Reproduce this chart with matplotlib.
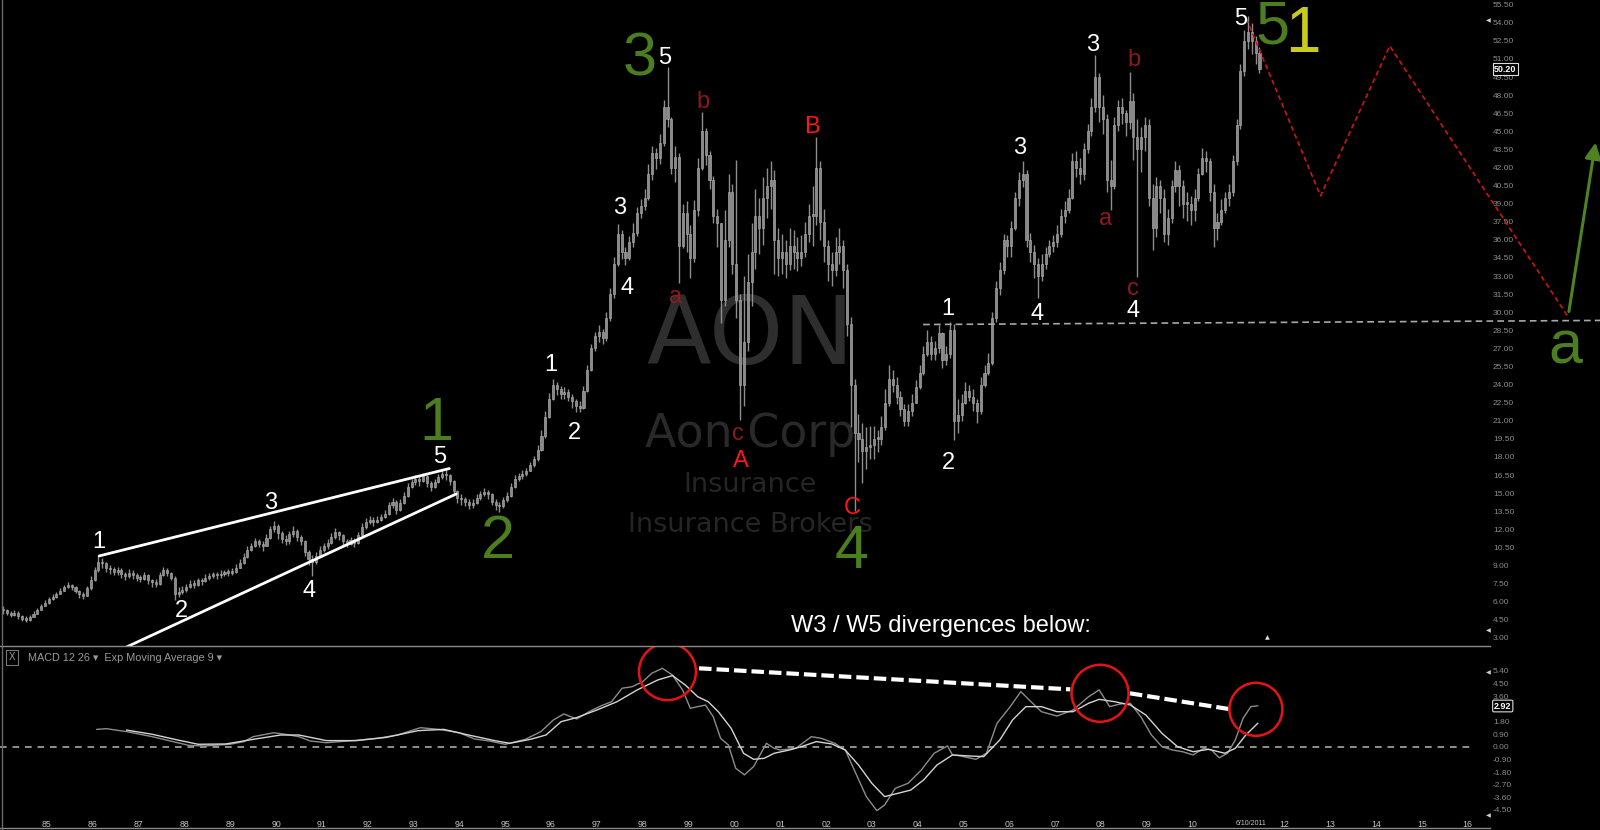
import numpy as np
import matplotlib
matplotlib.use("Agg")
import matplotlib.pyplot as plt
from matplotlib.patches import Ellipse
from matplotlib.lines import Line2D
from matplotlib import transforms

# monthly bars, Jan 1984 .. Jun 2011 (one row per year)
close = [
    5.3, 5.1, 4.9, 5.1, 4.8, 4.6, 4.5, 4.7, 5.0, 5.3, 5.6, 5.9,            # 84
    6.2, 6.4, 6.6, 6.9, 7.2, 7.4, 7.2, 6.9, 6.6, 6.5, 7.1, 7.8,            # 85
    8.6, 9.3, 9.2, 8.8, 8.7, 8.5, 8.6, 8.3, 8.1, 8.4, 8.2, 8.0,            # 86
    7.9, 8.2, 7.8, 7.6, 7.5, 8.2, 8.6, 8.4, 8.0, 6.6, 6.8, 7.0,            # 87
    7.2, 7.5, 7.4, 7.8, 7.7, 8.0, 8.1, 8.3, 8.2, 8.3, 8.4, 8.4,            # 88
    8.5, 8.8, 9.2, 9.7, 10.3, 10.6, 11.0, 10.8, 10.6, 11.3, 12.0, 12.3,    # 89
    11.7, 11.2, 11.0, 11.6, 11.9, 11.4, 11.0, 10.1, 9.5, 9.3, 9.8, 10.3,   # 90
    10.6, 10.9, 11.4, 11.8, 11.5, 11.0, 10.8, 11.1, 10.9, 11.5, 12.2, 12.6,  # 91
    12.8, 12.6, 12.8, 13.0, 13.3, 14.0, 14.3, 13.6, 14.2, 14.8, 15.5, 15.9,  # 92
    16.2, 16.0, 16.4, 15.8, 15.5, 15.9, 16.3, 16.6, 16.5, 16.0, 15.2, 14.6,  # 93
    14.5, 14.3, 14.0, 14.2, 14.6, 14.9, 15.1, 14.9, 14.3, 14.0, 13.9, 14.4,  # 94
    14.8, 15.5, 16.2, 16.4, 16.6, 16.8, 17.3, 17.8, 18.6, 19.7, 21.3, 22.8,  # 95
    24.0, 23.6, 23.2, 23.4, 23.0, 22.6, 22.2, 22.1, 23.5, 25.2, 27.0, 28.0,  # 96
    28.4, 27.9, 29.5, 31.5, 34.0, 36.5, 35.0, 34.5, 35.8, 36.6, 38.2, 38.8,  # 97
    39.5, 41.5, 43.2, 42.8, 44.0, 47.0, 46.0, 42.0, 42.9, 35.5, 38.2, 36.5,  # 98
    34.5, 38.5, 42.0, 45.0, 43.0, 41.0, 38.0, 37.4, 31.0, 36.0, 40.0, 34.0,  # 99
    31.0, 24.0, 27.5, 32.5, 35.0, 38.0, 37.0, 39.5, 40.5, 41.0, 36.0, 34.5,  # 00
    35.0, 34.0, 35.5, 35.0, 34.5, 35.0, 36.5, 38.0, 38.0, 42.0, 37.5, 35.5,  # 01
    34.0, 33.5, 35.0, 35.5, 33.5, 29.0, 24.0, 20.0, 19.5, 18.5, 18.8, 19.0,  # 02
    19.5, 19.5, 20.5, 22.5, 24.5, 24.0, 23.0, 22.0, 21.0, 21.8, 22.5, 23.8,  # 03
    25.0, 26.5, 27.5, 26.5, 27.0, 28.3, 26.0, 26.5, 28.5, 21.0, 21.5, 22.5,  # 04
    23.5, 23.0, 22.5, 21.8, 24.0, 25.0, 25.8, 29.5, 32.0, 33.5, 36.0, 35.5,  # 05
    37.0, 39.5, 41.0, 41.5, 36.0, 35.0, 34.0, 33.0, 34.0, 34.8, 35.5, 35.8,  # 06
    36.5, 38.0, 38.5, 39.5, 42.5, 42.0, 41.5, 43.5, 45.0, 47.0, 49.5, 47.0,  # 07
    46.0, 41.0, 40.5, 45.5, 47.0, 46.5, 45.8, 47.5, 44.5, 43.5, 44.5, 45.5,  # 08
    39.5, 37.0, 40.5, 39.5, 36.5, 37.8, 40.5, 41.8, 40.5, 39.0, 39.0, 38.5,  # 09
    39.5, 41.5, 42.8, 42.5, 40.0, 37.0, 37.5, 38.5, 39.5, 40.0, 42.5, 45.5,  # 10
    50.0, 52.5, 53.2, 52.5, 51.5, 50.2,                                      # 11
]
high = [
    5.6, 5.4, 5.2, 5.3, 5.2, 4.9, 4.8, 4.9, 5.2, 5.5, 5.8, 6.1,
    6.4, 6.6, 6.8, 7.1, 7.4, 7.6, 7.5, 7.3, 7.0, 6.8, 7.3, 8.1,
    8.9, 9.8, 9.6, 9.3, 9.0, 8.9, 8.9, 8.8, 8.5, 8.7, 8.6, 8.4,
    8.2, 8.5, 8.3, 7.9, 7.9, 8.5, 8.9, 8.8, 8.5, 8.1, 7.2, 7.3,
    7.5, 7.8, 7.8, 8.0, 8.0, 8.3, 8.4, 8.5, 8.5, 8.6, 8.6, 8.7,
    8.8, 9.1, 9.5, 10.0, 10.6, 10.9, 11.3, 11.2, 11.0, 11.6, 12.3, 12.7,
    12.4, 11.9, 11.5, 11.9, 12.3, 12.0, 11.5, 11.1, 10.3, 9.9, 10.1, 10.6,
    10.9, 11.2, 11.7, 12.1, 11.9, 11.6, 11.2, 11.4, 11.3, 11.8, 12.5, 12.9,
    13.1, 13.0, 13.1, 13.3, 13.6, 14.3, 14.6, 14.4, 14.5, 15.1, 15.8, 16.2,
    16.5, 16.4, 16.7, 16.5, 16.0, 16.2, 16.6, 16.9, 17.0, 16.6, 16.1, 15.3,
    14.9, 14.7, 14.5, 14.5, 14.9, 15.2, 15.4, 15.3, 15.0, 14.5, 14.3, 14.7,
    15.1, 15.8, 16.5, 16.7, 16.9, 17.1, 17.6, 18.1, 19.0, 20.2, 21.8, 23.3,
    24.5, 24.2, 23.9, 23.8, 23.6, 23.2, 22.8, 22.6, 23.9, 25.6, 27.4, 28.4,
    28.9, 28.6, 30.0, 32.0, 34.6, 37.3, 36.8, 35.4, 36.3, 37.4, 38.7, 39.4,
    40.2, 42.3, 43.8, 43.6, 44.8, 47.6, 50.3, 46.2, 43.8, 43.2, 39.0, 39.2,
    37.2, 39.3, 42.8, 46.6, 45.3, 43.4, 41.3, 38.6, 37.4, 38.5, 41.5, 40.6,
    42.6, 31.5, 33.0, 34.8, 37.4, 40.2, 39.5, 41.2, 42.0, 42.5, 41.8, 37.0,
    36.5, 36.0, 37.0, 36.8, 36.2, 36.4, 37.5, 39.0, 40.5, 44.5, 42.5, 38.6,
    36.0, 35.0, 36.2, 37.0, 36.0, 34.0, 29.6, 24.5, 21.6, 20.8, 20.5, 20.6,
    20.6, 20.2, 21.4, 23.6, 25.6, 25.2, 24.6, 23.5, 22.4, 22.4, 23.2, 24.4,
    25.6, 27.2, 28.5, 28.0, 27.6, 28.9, 28.4, 27.2, 29.2, 29.0, 22.8, 23.2,
    24.2, 24.0, 23.6, 22.8, 24.6, 25.6, 26.6, 30.0, 32.6, 34.2, 36.5, 36.4,
    37.6, 40.0, 41.6, 42.5, 41.8, 36.6, 35.6, 34.5, 34.8, 35.4, 36.0, 36.4,
    37.2, 38.6, 39.2, 40.2, 43.2, 43.4, 42.8, 44.0, 45.6, 47.8, 51.3, 49.8,
    48.0, 46.4, 42.6, 46.2, 47.6, 47.8, 46.8, 49.9, 48.2, 46.0, 45.4, 46.2,
    46.0, 40.6, 41.2, 41.0, 40.2, 38.6, 41.0, 42.5, 42.2, 41.0, 40.0, 39.6,
    40.2, 42.0, 43.6, 43.4, 42.8, 40.6, 38.2, 39.4, 40.0, 40.6, 43.0, 46.0,
    50.6, 53.4, 54.6, 54.0, 52.9, 52.0,
]
low = [
    5.0, 4.9, 4.7, 4.8, 4.6, 4.4, 4.3, 4.4, 4.7, 5.0, 5.3, 5.6,
    5.8, 6.1, 6.3, 6.6, 6.9, 7.1, 7.0, 6.7, 6.3, 6.2, 6.5, 7.0,
    7.7, 8.5, 8.8, 8.5, 8.3, 8.2, 8.2, 8.0, 7.8, 8.0, 7.9, 7.7,
    7.6, 7.8, 7.5, 7.2, 7.2, 7.4, 8.1, 8.1, 7.8, 6.1, 6.4, 6.6,
    6.8, 7.1, 7.1, 7.3, 7.4, 7.6, 7.8, 8.0, 7.9, 8.0, 8.1, 8.1,
    8.2, 8.4, 8.8, 9.1, 9.6, 10.2, 10.5, 10.5, 10.2, 10.6, 11.2, 11.8,
    11.2, 10.9, 10.7, 10.8, 11.4, 11.0, 10.7, 9.8, 9.0, 8.1, 9.1, 9.7,
    10.1, 10.4, 10.8, 11.2, 11.1, 10.6, 10.5, 10.7, 10.5, 10.8, 11.4, 12.0,
    12.4, 12.3, 12.5, 12.7, 12.9, 13.2, 13.8, 13.3, 13.5, 14.1, 14.7, 15.4,
    15.7, 15.6, 15.9, 15.5, 15.2, 15.4, 15.8, 16.2, 16.1, 15.7, 15.0, 14.2,
    14.0, 13.9, 13.7, 13.8, 14.1, 14.4, 14.8, 14.5, 14.0, 13.6, 13.4, 13.8,
    14.3, 14.7, 15.4, 16.0, 16.2, 16.4, 16.8, 17.2, 17.7, 18.5, 19.6, 21.2,
    22.7, 23.1, 22.8, 22.8, 22.6, 22.1, 21.7, 21.7, 22.0, 23.4, 25.1, 26.8,
    27.5, 27.4, 27.6, 29.3, 31.2, 33.8, 34.4, 33.9, 34.3, 35.4, 36.3, 37.8,
    38.5, 39.3, 41.0, 41.9, 42.3, 43.8, 45.4, 41.5, 40.8, 32.4, 35.3, 35.0,
    32.8, 34.2, 38.0, 41.8, 42.2, 40.2, 37.4, 35.4, 29.1, 30.5, 35.4, 33.2,
    29.5, 21.1, 22.2, 26.8, 30.5, 33.6, 34.8, 35.6, 37.8, 38.6, 33.2, 33.0,
    33.2, 32.8, 33.5, 33.6, 33.4, 33.8, 34.6, 35.8, 35.5, 37.2, 36.0, 34.2,
    32.6, 32.2, 33.0, 34.0, 32.0, 28.0, 20.5, 13.5, 17.6, 15.8, 17.0, 17.8,
    17.8, 18.4, 19.0, 20.2, 22.2, 23.4, 22.4, 21.4, 20.6, 20.6, 21.4, 22.5,
    23.6, 24.8, 26.4, 26.0, 26.0, 26.6, 25.4, 25.6, 26.2, 19.4, 20.0, 21.0,
    22.4, 22.6, 21.8, 20.8, 21.6, 23.8, 24.8, 25.6, 29.2, 31.4, 33.2, 34.6,
    34.6, 36.8, 38.8, 40.4, 35.4, 34.2, 32.8, 31.2, 32.6, 33.6, 34.6, 35.0,
    35.4, 36.2, 37.4, 38.2, 39.4, 41.2, 40.6, 41.0, 43.2, 44.6, 46.6, 45.8,
    44.8, 40.0, 38.5, 40.2, 45.0, 45.6, 44.6, 45.2, 42.6, 32.9, 41.6, 43.4,
    38.8, 35.2, 36.2, 38.2, 35.8, 35.6, 37.4, 40.0, 38.8, 37.8, 37.6, 37.2,
    37.6, 39.2, 41.4, 41.6, 39.2, 35.4, 36.0, 37.2, 38.2, 38.8, 39.6, 42.2,
    45.2, 49.6, 51.8, 51.4, 50.6, 49.8,
]

# MACD 12 26 and its 9 EMA (decimal year, value)
macd_t = [1986.09, 1986.3, 1986.74, 1987.3, 1987.75, 1988.1, 1988.44, 1989.0, 1989.3, 1989.5,
          1989.95, 1990.2, 1990.5, 1990.75, 1991.1, 1991.75, 1992.2, 1992.65, 1993.15, 1993.55,
          1994.0, 1994.33, 1994.66, 1995.0, 1995.44, 1995.78, 1996.05, 1996.28, 1996.56, 1996.83,
          1997.1, 1997.32, 1997.55, 1997.77, 1998.0, 1998.2, 1998.43, 1998.65, 1998.87, 1999.04,
          1999.2, 1999.37, 1999.54, 1999.7, 1999.87, 2000.03, 2000.22, 2000.42, 2000.7, 2000.87,
          2001.0, 2001.34, 2001.68, 2001.9, 2002.19, 2002.42, 2002.65, 2002.88, 2003.11, 2003.28,
          2003.51, 2003.79, 2004.08, 2004.36, 2004.65, 2004.76, 2004.93, 2005.27, 2005.5, 2005.73,
          2006.02, 2006.25, 2006.47, 2006.7, 2007.04, 2007.39, 2007.73, 2007.96, 2008.19, 2008.42,
          2008.64, 2008.87, 2009.1, 2009.33, 2009.56, 2009.78, 2010.01, 2010.24, 2010.41, 2010.58,
          2010.76, 2010.93, 2011.1, 2011.27, 2011.42]
macd_v = [1.24, 1.29, 1.08, 0.72, 0.37, 0.10, 0.06, 0.18, 0.37, 0.72,
          1.00, 0.89, 0.72, 0.41, 0.29, 0.46, 0.60, 0.84, 1.36, 1.24,
          1.00, 0.56, 0.41, 0.18, 0.53, 1.08, 1.91, 2.34, 1.98, 2.50,
          2.93, 3.21, 4.17, 4.28, 4.64, 5.24, 5.59, 5.11, 4.05, 2.74,
          2.86, 2.97, 2.14, 0.60, 0.13, -1.53, -2.00, -1.41, 0.25, -0.11,
          -0.23, -0.11, 0.72, 0.60, 0.25, -0.23, -1.89, -3.55, -4.55, -4.14,
          -2.96, -2.60, -1.65, -0.46, 0.06, -0.58, -0.65, -0.89, -0.46, 1.67,
          2.86, 3.93, 3.22, 2.50, 2.19, 2.62, 3.57, 4.05, 2.86, 3.05,
          3.10, 2.14, 0.84, 0.01, -0.23, -0.35, -0.58, -0.11, -0.23, -0.78,
          -0.46, 0.48, 2.03, 2.86, 2.92]
sig_t = [1986.74, 1987.3, 1987.86, 1988.3, 1988.9, 1989.5, 1990.1, 1990.5, 1991.1, 1991.75,
         1992.4, 1993.1, 1993.66, 1994.2, 1994.77, 1995.1, 1995.55, 1995.89, 1996.22, 1996.56,
         1997.0, 1997.44, 1997.88, 1998.33, 1998.65, 1998.93, 1999.2, 1999.43, 1999.65, 1999.93,
         2000.2, 2000.42, 2000.65, 2000.87, 2001.2, 2001.46, 2001.79, 2002.13, 2002.42, 2002.71,
         2003.0, 2003.28, 2003.51, 2003.85, 2004.13, 2004.42, 2004.76, 2005.1, 2005.44, 2005.79,
         2006.07, 2006.36, 2006.7, 2007.04, 2007.39, 2007.73, 2007.96, 2008.3, 2008.64, 2008.98,
         2009.33, 2009.67, 2010.01, 2010.35, 2010.7, 2010.93, 2011.16, 2011.42]
sig_v = [1.19, 0.89, 0.48, 0.18, 0.20, 0.53, 0.84, 0.84, 0.44, 0.44,
         0.67, 1.15, 1.24, 0.84, 0.44, 0.25, 0.53, 0.84, 1.79, 2.08,
         2.62, 3.21, 4.05, 4.76, 5.07, 4.40, 3.57, 3.21, 2.50, 1.32,
         -0.46, -0.89, -0.82, -0.46, -0.23, 0.01, 0.37, 0.20, -0.23, -1.30,
         -2.60, -3.55, -3.36, -3.08, -2.36, -1.30, -0.58, -0.65, -0.70, 0.48,
         1.91, 2.86, 2.86, 2.50, 2.50, 3.10, 3.38, 3.21, 2.98, 2.26,
         0.96, 0.01, -0.35, -0.18, -0.46, -0.11, 0.84, 1.67]

year_ticks = [y for y in range(1985, 2017) if y != 2011]
price_ticks = [3.0 + 1.5 * i for i in range(36)]
macd_ticks = [-4.5, -3.6, -2.7, -1.8, -0.9, 0.0, 0.9, 1.8, 2.7, 3.6, 4.5, 5.4]
date_label_x = 2011.27

LAB = ["Liberation Sans", "DejaVu Sans"]
W, H = 1600, 830
fig = plt.figure(figsize=(16, 8.3), dpi=100, facecolor="black")
ax = fig.add_axes([0, 184 / H, 1, 646 / H], facecolor="black")
axm = fig.add_axes([0, 0, 1, 184 / H], facecolor="black")
XL = (1983.977, 2018.888)
for a in (ax, axm):
    a.set_xlim(*XL)
    for s in a.spines.values():
        s.set_visible(False)
ax.set_ylim(2.324, 55.89)
axm.set_ylim(-5.926, 7.179)

# price bars
t = 1984 + (np.arange(len(close)) + 0.5) / 12.0
c = np.array(close)
o = np.concatenate([[c[0]], c[:-1]])
hi = np.maximum(np.array(high), np.maximum(o, c))
lo = np.minimum(np.array(low), np.minimum(o, c))
ax.vlines(t, lo, hi, color="#8e8e8e", lw=1.0, zorder=2)
ax.bar(t, np.maximum(np.abs(c - o), 0.12), bottom=np.minimum(o, c), width=0.045,
       color="#8a8a8a", edgecolor="#b4b4b4", linewidth=0.4, zorder=2)

# watermark
ax.text(2000.35, 27.9, "AON", color="#2e2e2e", fontsize=68, ha="center", va="center",
        family="DejaVu Sans", zorder=0)
ax.text(2000.35, 19.9, "Aon Corp", color="#292929", fontsize=33, ha="center", va="center",
        family="DejaVu Sans", zorder=0)
ax.text(2000.35, 15.7, "Insurance", color="#252525", fontsize=19.5, ha="center", va="center",
        family="DejaVu Sans", zorder=0)
ax.text(2000.35, 12.35, "Insurance Brokers", color="#252525", fontsize=19.5, ha="center",
        va="center", family="DejaVu Sans", zorder=0)

# ending diagonal
ax.plot([1986.14, 1993.78], [9.79, 17.04], color="white", lw=2.0, zorder=3, solid_capstyle="round")
ax.plot([1986.5, 1993.93], [1.82, 14.93], color="white", lw=2.0, zorder=3, solid_capstyle="round")
# wave-1 level
ax.plot([2004.12, 2018.89], [28.98, 29.32], color="#a8a8a8", lw=1.2, dashes=(4, 2.5), zorder=3)
# projection
ax.plot([2011.17, 2012.79, 2014.3, 2018.2], [54.36, 39.65, 52.08, 29.57], color="#d01414",
        lw=1.2, dashes=(3, 2), zorder=3)
ax.annotate("", xy=(2018.8, 44.3), xytext=(2018.2, 29.83),
            arrowprops=dict(arrowstyle="-|>", color="#4f8220", lw=2.2, mutation_scale=24), zorder=3)

white = [("1", 1986.14, 11.1), ("2", 1987.94, 5.37), ("3", 1989.88, 14.35), ("4", 1990.72, 7.0),
         ("5", 1993.57, 18.15), ("1", 1996.0, 25.8), ("2", 1996.51, 20.1), ("3", 1997.49, 38.8),
         ("4", 1997.65, 32.2), ("5", 1998.49, 51.2), ("1", 2004.66, 30.4), ("2", 2004.68, 17.65),
         ("3", 2006.22, 43.8), ("4", 2006.6, 30.0), ("3", 2007.82, 52.3), ("4", 2008.69, 30.25),
         ("5", 2011.05, 54.45)]
for s, x, y in white:
    ax.text(x, y - 0.15, s, color="white", fontsize=17, ha="center", va="center", family=LAB,
            zorder=4)
dark = [("a", 1998.72, 31.26), ("b", 1999.32, 47.43), ("c", 2000.07, 19.93),
        ("a", 2008.11, 37.7), ("b", 2008.71, 50.9), ("c", 2008.69, 31.94)]
for s, x, y in dark:
    ax.text(x, y, s, color="#8c1a1e", fontsize=17, ha="center", va="center", family=LAB, zorder=4)
for s, x, y in [("B", 2001.7, 45.48), ("A", 2000.14, 17.8), ("C", 2002.57, 13.92)]:
    ax.text(x, y - 0.15, s, color="#ff1616", fontsize=17, ha="center", va="center", family=LAB,
            zorder=4)
green = [("1", 1993.5, 21.2), ("2", 1994.84, 11.47), ("3", 1997.94, 51.5), ("4", 2002.55, 10.6),
         ("5", 2011.75, 54.1), ("a", 2018.13, 27.6)]
for s, x, y in green:
    ax.text(x, y - 0.55, s, color="#4c7d1e", fontsize=44, ha="center", va="center", family=LAB,
            zorder=4)
ax.text(2012.4, 53.6 - 0.6, "1", color="#c9c91e", fontsize=46, ha="center", va="center",
        family=LAB, zorder=4)

ax.text(2004.51, 3.98, "W3 / W5 divergences below:", color="white", fontsize=17, ha="center",
        va="center", family=LAB, zorder=4)

# axes ticks (labels drawn inside, right side)
for a, ticks in ((ax, price_ticks), (axm, macd_ticks)):
    a.yaxis.tick_right()
    a.set_yticks(ticks)
    a.set_yticklabels(["%.2f" % v for v in ticks])
    a.tick_params(axis="y", length=0, pad=-77, labelsize=6, labelcolor="#8c8c8c")
    for lab in a.get_yticklabels():
        lab.set_family(LAB)
ax.set_xticks([])
axm.set_xticks(year_ticks + [date_label_x])
axm.set_xticklabels(["%02d" % (y % 100) for y in year_ticks] + ["6/10/2011"])
axm.tick_params(axis="x", length=0, pad=-7, labelsize=6.3, labelcolor="#c4c4c4")
for lab in axm.get_xticklabels():
    lab.set_family(LAB)
axm.get_xticklabels()[-1].set_fontsize(5)

# MACD panel
axm.plot([XL[0], 2016.15], [0, 0], color="#a8a8a8", lw=1.2, dashes=(4, 3.5), zorder=1)
axm.plot(macd_t, macd_v, color="#8c8c8c", lw=1.0, zorder=2)
axm.plot(sig_t, sig_v, color="#d4d4d4", lw=1.0, zorder=2)
axm.plot([1999.23, 2007.33], [5.59, 4.09], color="white", lw=3, dashes=(3, 1.2), zorder=3)
axm.plot([2008.63, 2010.83], [3.81, 2.67], color="white", lw=3, dashes=(3, 1.2), zorder=3)
for x, y, d in [(1998.54, 5.35, 0.57), (2007.98, 3.81, 0.57), (2011.38, 2.67, 0.53)]:
    tr = fig.dpi_scale_trans + transforms.ScaledTranslation(x, y, axm.transData)
    axm.add_patch(Ellipse((0, 0), d, d, transform=tr, fill=False, ec="#e41414", lw=1.8, zorder=4))

fig.text(12 / W, 1 - 657.5 / H, "X", color="#9a9a9a", fontsize=7, ha="center", va="center",
         family=LAB, bbox=dict(boxstyle="square,pad=0.25", fc="black", ec="#777777", lw=0.8))
fig.text(28 / W, 1 - 658 / H, "MACD 12 26 \u25be  Exp Moving Average 9 \u25be", color="#9a9a9a",
         fontsize=7.8, ha="left", va="center", family=LAB)

# value boxes and small markers
fig.text(1494 / W, 1 - 69.3 / H, "50.20", color="white", fontsize=6.5, weight="bold", ha="left",
         va="center", family=LAB, zorder=6,
         bbox=dict(boxstyle="square,pad=0.15", fc="black", ec="#dddddd", lw=0.8))
fig.text(1494 / W, 1 - 706 / H, "2.92", color="white", fontsize=6.5, weight="bold", ha="left",
         va="center", family=LAB, zorder=6,
         bbox=dict(boxstyle="round,pad=0.15", fc="black", ec="#dddddd", lw=0.8))
for py in (20.7, 630.7, 672.3, 816.0):
    fig.text(1488 / W, 1 - py / H, "\u25c0", color="#d0d0d0", fontsize=4.5, ha="center",
             va="center", family="DejaVu Sans")
fig.text(1267 / W, 1 - 638 / H, "\u25b2", color="#e0e0e0", fontsize=4.5, ha="center",
         va="center", family="DejaVu Sans")

# frame lines
fig.add_artist(Line2D([0, 1490 / W], [184 / H, 184 / H], color="#8a8a8a", lw=1.0))
fig.add_artist(Line2D([0, 1490 / W], [2 / H, 2 / H], color="#8a8a8a", lw=1.0))
fig.add_artist(Line2D([1.5 / W, 1.5 / W], [0, 1], color="#6a6a6a", lw=1.0))

fig.savefig("out.png", dpi=100, facecolor="black")
